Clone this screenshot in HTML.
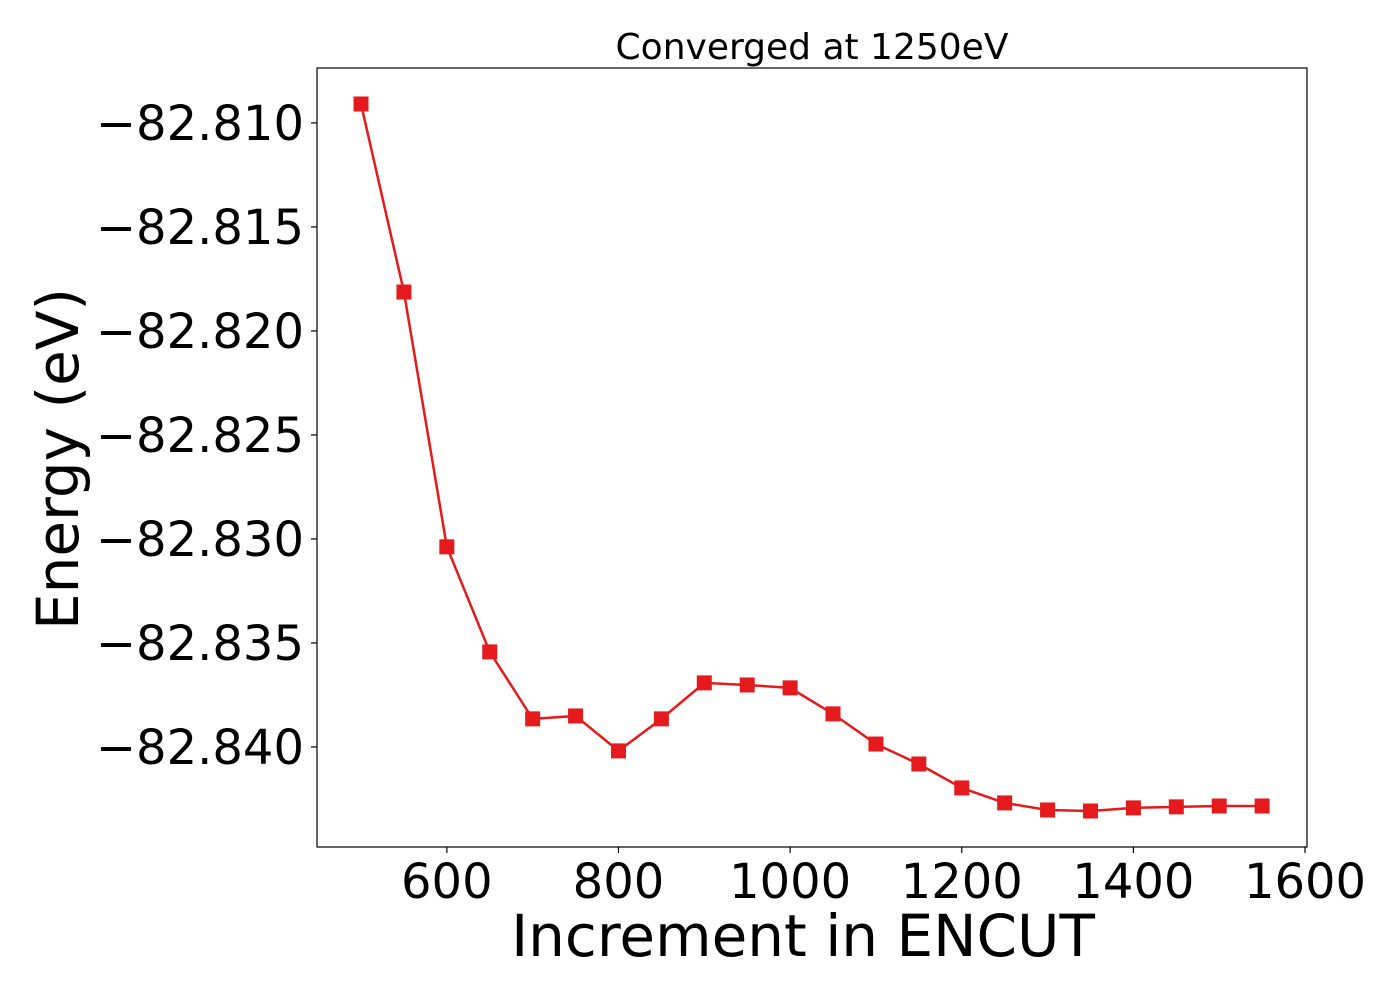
<!DOCTYPE html>
<html><head><meta charset="utf-8"><style>
html,body{margin:0;padding:0;background:#fff}
svg text{font-family:"DejaVu Sans","Liberation Sans",sans-serif;fill:#000}
</style></head><body>
<svg id="chart" width="1400" height="1000" xmlns="http://www.w3.org/2000/svg">
<text x="812" y="59" font-size="36" text-anchor="middle">Converged at 1250eV</text>
<g id="plot"></g>
<rect x="317" y="68" width="990" height="779" fill="none" stroke="#000" stroke-width="1.2"/>
<text x="803" y="956" font-size="58" text-anchor="middle">Increment in ENCUT</text>
<text transform="translate(78,459) rotate(-90)" font-size="58" text-anchor="middle">Energy (eV)</text>
</svg>
<script>
const encut = [500,550,600,650,700,750,800,850,900,950,1000,1050,1100,1150,1200,1250,1300,1350,1400,1450,1500,1550];
const energy = [-82.80909,-82.81813,-82.83038,-82.83543,-82.83865,-82.83851,-82.84019,-82.83865,-82.83692,-82.83702,-82.83716,-82.83841,-82.83986,-82.84082,-82.84197,-82.84269,-82.84303,-82.84308,-82.84293,-82.84288,-82.84284,-82.84284];
const xTicks = [600,800,1000,1200,1400,1600];
const yTicks = [-82.810,-82.815,-82.820,-82.825,-82.830,-82.835,-82.840];
const yTickLabels = ["\u221282.810","\u221282.815","\u221282.820","\u221282.825","\u221282.830","\u221282.835","\u221282.840"];

const L=317,R=1307,T=68,B=847;
const xMin=448.7,xMax=1602.3,yMin=-82.84481,yMax=-82.80736;
const sx=v=>L+(v-xMin)/(xMax-xMin)*(R-L);
const sy=v=>B-(v-yMin)/(yMax-yMin)*(B-T);
const NS="http://www.w3.org/2000/svg";
const g=document.getElementById('plot');
function mk(t,a){const e=document.createElementNS(NS,t);for(const k in a)e.setAttribute(k,a[k]);g.appendChild(e);return e;}

xTicks.forEach(v=>{
  const l=mk('line',{x1:sx(v),x2:sx(v),y1:B,y2:B+6,stroke:'#000','stroke-width':1.2});
  
  
  const t=mk('text',{x:sx(v),y:B+51,'font-size':48,'text-anchor':'middle'});
  t.textContent=v;
  
  
});
yTicks.forEach((v,i)=>{
  const l=mk('line',{x1:L-6,x2:L,y1:sy(v),y2:sy(v),stroke:'#000','stroke-width':1.2});
  
  
  const t=mk('text',{x:L-13,y:sy(v)+17,'font-size':48,'text-anchor':'end'});
  t.textContent=yTickLabels[i];
  
  
});
const pts=encut.map((x,i)=>sx(x)+','+sy(energy[i])).join(' ');
const line=mk('polyline',{points:pts,fill:'none',stroke:'#e41a1c','stroke-width':2.5});


encut.forEach((x,i)=>{
  const r=mk('rect',{x:sx(x)-7.5,y:sy(energy[i])-7.5,width:15,height:15,fill:'#e41a1c'});
  
  
});
</script>
</body></html>
